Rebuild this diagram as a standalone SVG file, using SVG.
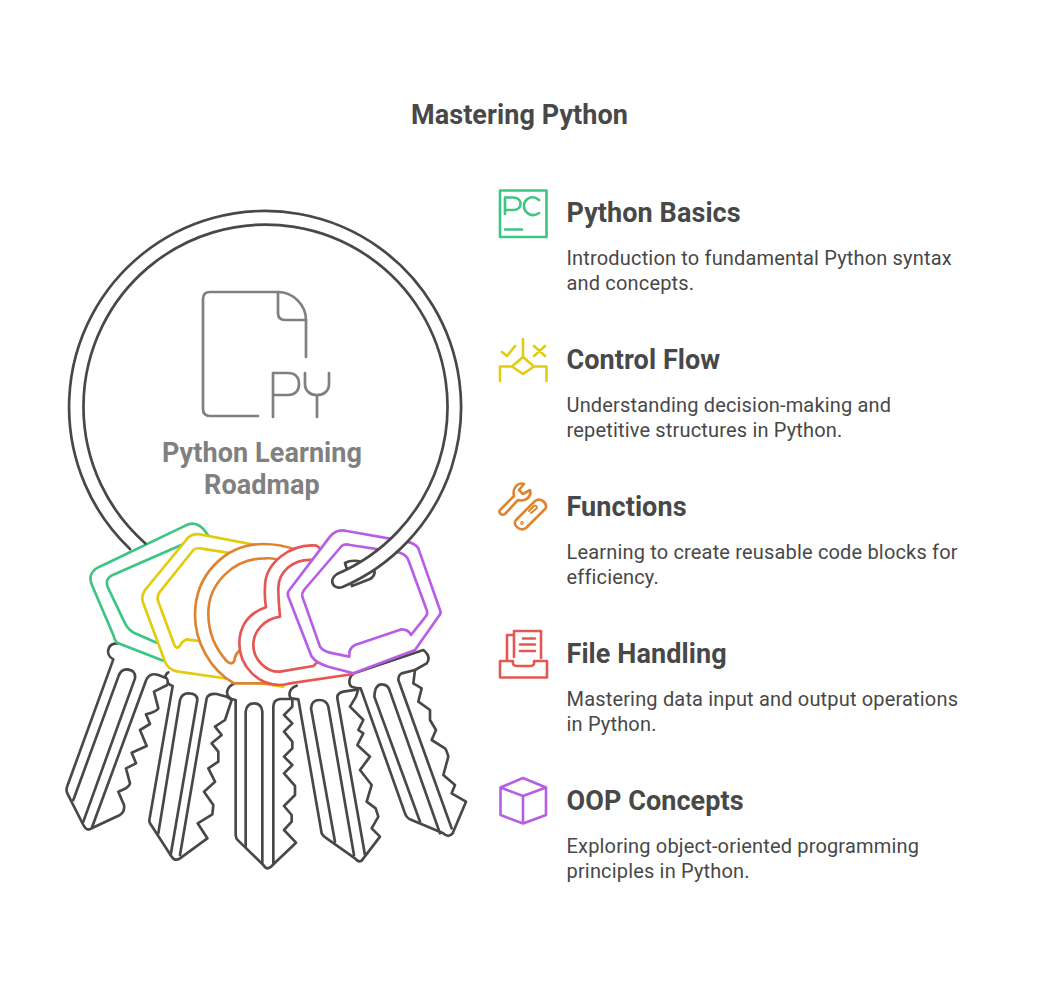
<svg xmlns="http://www.w3.org/2000/svg" width="1039" height="999" viewBox="0 0 1039 999">
<style>
text{font-family:Roboto,"Liberation Sans",sans-serif}
.t{font-size:27px;font-weight:700;fill:#484848;letter-spacing:.08px}
.d{font-size:20px;fill:#484848;letter-spacing:.17px}
.c{font-size:27px;font-weight:700;fill:#808080;text-anchor:middle;letter-spacing:.08px}
path,circle{stroke-linecap:round;stroke-linejoin:round}
.k path{fill:#fff;stroke:#484848;stroke-width:8}
.s path{fill:#fff;stroke-width:8}
.k .l,.i{fill:none}
.i{stroke-width:2.600}
.z{transform:translate(50px,500px) scale(.33333)}
</style>
<rect width="1039" height="999" fill="#fff"/>
<text x="519.500" y="124" text-anchor="middle" class="t">Mastering Python</text>

<g id="connectors" class="z">
<g class="k" id="key-5">
<path d="M912 520C895 530 895 555 905 560C920 565 932 565 932 565L1065 940Q1070 955 1085 960L1180 1000Q1195 1015 1208 1000L1248 905L1205 880L1215 855L1180 825L1195 770Q1190 750 1185 745L1145 720L1158 690L1140 660L1140 630L1105 605L1115 565L1090 550L1095 510L1130 490Q1145 470 1120 450Z"/>
<path class="l" d="M1110 965L973 590Q975 553 995 553Q1015 553 1020 575L1170 1000M1205 985L1045 540Q1045 525 1055 520L1095 510"/>
</g>
<g class="k" id="key-4">
<path d="M740 557C715 565 715 590 725 595L745 598L815 1000Q820 1010 830 1015L915 1075Q925 1088 935 1082L990 1010L965 985L985 950L977 925L950 905L965 855L930 810L960 770L922 735L940 700L925 690L940 660L900 620L918 590L925 568L880 575Q860 580 862 595L945 1065"/>
<path class="l" d="M855 1025L783 625Q785 600 808 600Q830 600 835 620L912 1065"/>
</g>
<g class="k" id="key-3">
<path d="M555 550C530 560 522 585 545 597L557 600L557 1005Q557 1015 565 1022L640 1095Q652 1115 668 1095L738 1028L702 990L725 965L725 945L702 918L735 885L735 858L702 820L727 795L702 770L727 745L727 725L702 695L727 670L702 645L727 620L727 597L690 597Q670 600 670 620L670 1090"/>
<path class="l" d="M587 1040L587 635Q590 610 612 610Q635 610 637 635L637 1090"/>
</g>
<g class="k" id="key-2">
<path d="M355 517C340 525 345 550 368 558L299 955Q296 965 302 973L365 1070Q375 1085 390 1075L472 1015L443 970L487 943L490 915L462 875L495 845L475 805L505 785L505 755L485 730L515 705L495 680L525 660L545 600L530 590L500 582Q475 580 470 595L390 1065"/>
<path class="l" d="M325 1000L390 600Q395 580 415 580Q442 580 442 600L362 1065"/>
</g>
<g class="k" id="key-1">
<path d="M205 430C170 428 165 465 190 478L52 858Q47 870 52 880L100 975Q110 995 125 985L210 945Q225 935 222 915L205 875L228 865Q240 855 240 850L228 805L258 790L245 758L290 738L270 690L300 672L288 643Q320 635 325 625L312 575L352 555Q355 540 350 535L325 525Q295 515 285 550L125 985"/>
<path class="l" d="M70 900L205 530Q212 508 230 508Q258 510 255 535L100 965"/>
</g>
</g>

<g id="tag-green" class="z s" stroke="#3cc583">
<path d="M160 195L400 80Q440 55 470 100L700 400L340 482L205 430Q195 425 190 405L128 260Q105 215 160 195Z"/>
<path d="M195 222L440 115L700 400L320 428L255 400Q235 390 225 370L175 265Q160 235 195 222Z"/>
</g>
<g id="tag-yellow" class="z s" stroke="#e3cb0e">
<path d="M415 112Q430 100 450 103L800 170L700 560L385 515Q355 510 345 485L280 310Q272 290 285 270Z"/>
<path d="M430 150Q440 142 455 146L800 200L700 440L440 422L410 418Q395 425 390 437Q380 450 373 435L325 305Q318 290 330 275Z"/>
</g>
<g id="tag-orange" class="z s" stroke="#de8431">
<path d="M740 150C700 135 670 132 640 132C525 132 435 225 435 345C435 425 480 510 552 550L720 550L800 300Z"/>
<path d="M700 185C680 175 660 174 645 175C550 175 475 250 475 340C475 395 495 445 530 483Q545 497 553 483Q555 460 572 450L800 300Z"/>
</g>
<g id="tag-red" class="z s" stroke="#e55753">
<path d="M800 137C720 130 645 190 645 260Q643 295 648 322C590 340 568 385 568 430C568 500 625 555 690 555Q705 555 720 550L910 522L1000 300Z"/>
<path d="M790 180C730 175 685 215 685 265Q685 300 690 350C640 358 610 395 610 435C610 480 650 517 690 515L790 498L1000 300Z"/>
</g>
<g id="tag-purple" class="z s" stroke="#b75ee4">
<path d="M718 270L840 110Q860 85 890 93L1070 125Q1095 130 1105 145L1170 330Q1175 340 1165 350L1095 450L910 520L835 500Q800 490 785 470L715 290Q710 280 718 270Z"/>
<path d="M762 270L875 138Q885 130 900 135L1050 158Q1070 165 1075 180L1130 330Q1135 342 1125 352L1083 405Q1075 388 1055 388L915 435Q895 445 898 470L850 460Q820 455 810 440L757 290Q755 280 762 270Z"/>
</g>

<g id="ring" stroke="#484848" stroke-width="2.700">
<path fill="#fff" d="M345 563Q350 560 358 561L372 566Q378 574 370 579L352 586Z"/>
<path fill="#fff" stroke="none" d="M130 549A196 196 0 1 1 342.600 587L337 574A182 182 0 1 0 145.400 543.400Z"/>
<path fill="none" d="M130 549A196 196 0 1 1 342.600 587C333 590 328 580 337 574A182 182 0 1 0 145.400 543.400"/>
</g>

<g id="center" fill="none" stroke="#808080" stroke-width="2.700">
<path d="M258 416H210Q203 416 203 409V299Q203 292 210 292H278C293 292 306 305 306 320V357"/>
<path d="M278 292V313Q278 320 285 320H306"/>
<path d="M273 417V373H288C295 373 299 377 299 384C299 391 295 395 288 395H273M305 373V384C305 391 310 395 317 395C324 395 329 391 329 384V373M317 395V417"/>
<text x="262" y="462" class="c" stroke="none">Python Learning</text>
<text x="262" y="494" class="c" stroke="none">Roadmap</text>
</g>

<g id="item-basics">
<g class="i" stroke="#3cc583">
<path d="M500 190.500H546.500V237H500Z"/>
<path d="M505 214V197.500H513C523 197.500 523 210 513 210H505M539 200C532 194 524 199 524 206C524 213 532 218 539 213M505 229.500H522"/>
</g>
<text x="566.500" y="222" class="t">Python Basics</text>
<text x="566.500" y="265" class="d">Introduction to fundamental Python syntax</text>
<text x="566.500" y="290" class="d">and concepts.</text>
</g>
<g id="item-control">
<g class="i" stroke="#e3cb0e">
<path d="M523 339V357L534 366.500L523 374L512 366.500L523 357M512 366.500H500V381M534 366.500H546.500V381"/>
<path d="M502 352L507 356L515 346M534 346L545 356M545 346L534 356"/>
</g>
<text x="566.500" y="369" class="t">Control Flow</text>
<text x="566.500" y="412" class="d">Understanding decision-making and</text>
<text x="566.500" y="437" class="d">repetitive structures in Python.</text>
</g>
<g id="item-functions">
<g class="i" stroke="#de8431">
<path d="M500 510L514 496C512 488 518 482 524 484L519 490L523 494L530 490C532 497 525 502 518 500L505 514C502 516 498 513 500 510Z"/>
<path d="M516 520L535 501C541 497 547 503 546 508L526 528C520 532 512 525 516 520Z"/>
<circle cx="522" cy="523" r=".6"/>
<path stroke-width="2" d="M529 511L534 506Q537 505 537 508L531 513"/>
</g>
<text x="566.500" y="516" class="t">Functions</text>
<text x="566.500" y="559" class="d">Learning to create reusable code blocks for</text>
<text x="566.500" y="584" class="d">efficiency.</text>
</g>
<g id="item-files">
<g class="i" stroke="#e55753">
<path d="M500 661H513V664Q514 666 517 666H530Q533 666 534 664V661H547V677.500H500Z"/>
<path d="M514 657V631H541V658M513 635H507V660M523 638.500H535M520 644.500H535M520 651H535"/>
</g>
<text x="566.500" y="663" class="t">File Handling</text>
<text x="566.500" y="706" class="d">Mastering data input and output operations</text>
<text x="566.500" y="731" class="d">in Python.</text>
</g>
<g id="item-oop">
<g class="i" stroke="#b75ee4">
<path d="M523 778L546 787.500V815L523 823.500L500.500 815V787.500ZM500.500 787.500L523 796L546 787.500M523 796V823.500"/>
</g>
<text x="566.500" y="810" class="t">OOP Concepts</text>
<text x="566.500" y="853" class="d">Exploring object-oriented programming</text>
<text x="566.500" y="878" class="d">principles in Python.</text>
</g>
</svg>
